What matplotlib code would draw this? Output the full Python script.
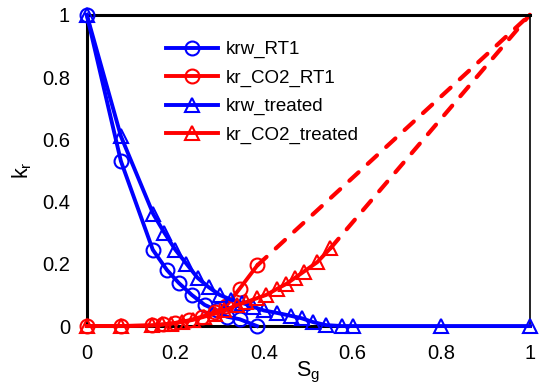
import matplotlib
matplotlib.use("Agg")
import matplotlib.pyplot as plt

plt.rcParams['font.family'] = ['Liberation Sans', 'DejaVu Sans']

# krw_RT1
sg_krw_rt1 = [0, 0.077, 0.149, 0.181, 0.208, 0.237, 0.266, 0.294, 0.316, 0.345, 0.384]
krw_rt1 = [1.0, 0.53, 0.245, 0.18, 0.138, 0.10, 0.068, 0.05, 0.03, 0.022, 0.0]

# kr_CO2_RT1
sg_kg_rt1 = [0, 0.077, 0.147, 0.172, 0.2, 0.23, 0.26, 0.29, 0.315, 0.345, 0.385]
kg_rt1 = [0, 0, 0.002, 0.005, 0.01, 0.018, 0.03, 0.045, 0.065, 0.12, 0.195]
sg_kg_rt1_ext = [0.385, 1.0]
kg_rt1_ext = [0.195, 1.0]

# krw_treated
sg_krw_tr = [0, 0.077, 0.15, 0.175, 0.2, 0.225, 0.25, 0.275, 0.3, 0.325, 0.35, 0.375,
             0.4, 0.43, 0.46, 0.485, 0.51, 0.54, 0.575, 0.6, 0.8, 1.0]
krw_tr = [1.0, 0.61, 0.36, 0.30, 0.245, 0.2, 0.155, 0.125, 0.10, 0.085, 0.075, 0.062,
          0.05, 0.042, 0.033, 0.025, 0.013, 0.003, 0.0, 0.0, 0.0, 0.0]

# kr_CO2_treated
sg_kg_tr = [0, 0.077, 0.147, 0.17, 0.19, 0.215, 0.24, 0.265, 0.29, 0.31, 0.34, 0.36,
            0.385, 0.405, 0.43, 0.45, 0.47, 0.49, 0.52, 0.55]
kg_tr = [0, 0, 0.002, 0.005, 0.008, 0.013, 0.02, 0.03, 0.04, 0.05, 0.068, 0.077,
         0.09, 0.10, 0.12, 0.135, 0.155, 0.175, 0.205, 0.25]
sg_kg_tr_ext = [0.55, 1.0]
kg_tr_ext = [0.25, 1.0]

fig = plt.figure(figsize=(5.39, 3.9), dpi=100)
ax = fig.add_axes([0.161, 0.164, 0.822, 0.798])

blue = (0, 0, 1)
red = (1, 0, 0)
kw = dict(lw=2.8, ms=10, mfc='none', mew=1.5, clip_on=False)

ax.plot(sg_krw_rt1, krw_rt1, color=blue, marker='o', label='krw_RT1', zorder=3, **kw)
ax.plot(sg_kg_rt1, kg_rt1, color=red, marker='o', label='kr_CO2_RT1', zorder=3, **kw)
ax.plot(sg_krw_tr, krw_tr, color=blue, marker='^', label='krw_treated', zorder=3, **kw)
ax.plot(sg_kg_tr, kg_tr, color=red, marker='^', label='kr_CO2_treated', zorder=3, **kw)
ax.plot(sg_kg_rt1_ext, kg_rt1_ext, color=red, lw=3, ls=(0, (3, 3)), dash_capstyle='round', clip_on=False, zorder=2)
ax.plot(sg_kg_tr_ext, kg_tr_ext, color=red, lw=3, ls=(0, (3, 3)), dash_capstyle='round', clip_on=False, zorder=2)

ax.set_xlim(0, 1)
ax.set_ylim(0, 1)
ax.set_xticks([0, 0.2, 0.4, 0.6, 0.8, 1])
ax.set_xticklabels(['0', '0.2', '0.4', '0.6', '0.8', '1'])
ax.set_yticks([0, 0.2, 0.4, 0.6, 0.8, 1])
ax.set_yticklabels(['0', '0.2', '0.4', '0.6', '0.8', '1'])
ax.tick_params(axis='x', length=0, labelsize=14.5, pad=13)
ax.tick_params(axis='y', length=0, labelsize=14.5, pad=12)
for s in ['left', 'bottom', 'top']:
    ax.spines[s].set_linewidth(2.2)
ax.spines['right'].set_linewidth(1.2)

ax.set_xlabel('S$_\\mathregular{g}$', fontsize=15.5, labelpad=-2)
ax.set_ylabel('k$_\\mathregular{r}$', fontsize=15.5, labelpad=6)

leg = ax.legend(loc='upper left', bbox_to_anchor=(0.14, 0.97), frameon=False,
                fontsize=13.5, handlelength=2.8, labelspacing=0.6, handletextpad=0.4)

fig.savefig('out.png', dpi=100)
